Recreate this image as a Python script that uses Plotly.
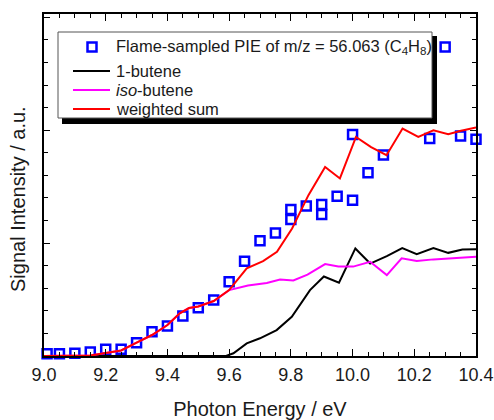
import plotly.graph_objects as go

# ---------------- data ----------------
pie_x = [9.01, 9.05, 9.10, 9.15, 9.20, 9.25, 9.30, 9.35, 9.40, 9.45, 9.50, 9.55, 9.60,
         9.65, 9.70, 9.75, 9.80, 9.80, 9.85, 9.90, 9.90, 9.95, 10.00, 10.00, 10.05,
         10.10, 10.25, 10.30, 10.35, 10.40]
pie_y = [0.02, 0.02, 0.025, 0.035, 0.06, 0.06, 0.118, 0.215, 0.265, 0.354, 0.427, 0.496, 0.658,
         0.84, 1.02, 1.09, 1.21, 1.298, 1.33, 1.254, 1.342, 1.416, 1.38, 1.962, 1.624,
         1.781, 1.927, 2.737, 1.95, 1.92]

sum_x = [9.00, 9.15, 9.20, 9.25, 9.30, 9.35, 9.40, 9.44, 9.47, 9.50, 9.55, 9.60, 9.657,
         9.71, 9.755, 9.804, 9.857, 9.911, 9.959, 10.011, 10.06, 10.09, 10.11, 10.162,
         10.213, 10.262, 10.31, 10.348, 10.40]
sum_y = [0.0, 0.005, 0.027, 0.049, 0.118, 0.186, 0.274, 0.378, 0.425, 0.438, 0.487, 0.584, 0.776,
         0.841, 0.923, 1.13, 1.425, 1.675, 1.573, 1.941, 1.85, 1.81, 1.779, 2.015,
         1.941, 2.0, 1.965, 1.994, 2.024]

but1_x = [9.00, 9.59, 9.614, 9.657, 9.70, 9.754, 9.803, 9.862, 9.907, 9.956, 10.009, 10.057,
          10.111, 10.161, 10.208, 10.262, 10.31, 10.356, 10.40]
but1_y = [0.0, 0.0, 0.024, 0.112, 0.157, 0.23, 0.348, 0.584, 0.704, 0.65, 0.953, 0.819,
          0.885, 0.956, 0.903, 0.956, 0.914, 0.944, 0.945]

iso_x = [9.00, 9.15, 9.20, 9.25, 9.30, 9.35, 9.40, 9.44, 9.47, 9.50, 9.55, 9.60, 9.661,
         9.722, 9.765, 9.808, 9.854, 9.911, 9.954, 10.002, 10.057, 10.111, 10.159, 10.208,
         10.262, 10.316, 10.40]
iso_y = [0.0, 0.005, 0.027, 0.049, 0.118, 0.186, 0.274, 0.378, 0.425, 0.438, 0.487, 0.584, 0.624,
         0.646, 0.677, 0.67, 0.721, 0.814, 0.794, 0.792, 0.835, 0.717, 0.865, 0.841,
         0.856, 0.865, 0.879]

x_tick_vals = [9.0, 9.2, 9.4, 9.6, 9.8, 10.0, 10.2, 10.4]
x_tick_text = ["9.0", "9.2", "9.4", "9.6", "9.8", "10.0", "10.2", "10.4"]

legend_labels = ["Flame-sampled PIE of m/z = 56.063 (C<sub>4</sub>H<sub>8</sub>)",
                 "1-butene", "<i>iso</i>-butene", "weighted sum"]

BLUE = "#0000ff"
RED = "#ff0000"
MAGENTA = "#ff00ff"
BLACK = "#000000"
FONT = "Arial, Liberation Sans, sans-serif"
TXT = "#1a1a1a"

W, H = 494, 420
L, R, T, B = 44, 476, 14, 356

fig = go.Figure()
fig.add_trace(go.Scatter(x=pie_x, y=pie_y, mode="markers", name=legend_labels[0],
                         marker=dict(symbol="square-open", size=9, color=BLUE,
                                     line=dict(color=BLUE, width=2.5)),
                         cliponaxis=False, showlegend=False))
fig.add_trace(go.Scatter(x=but1_x, y=but1_y, mode="lines", name=legend_labels[1],
                         line=dict(color=BLACK, width=2), showlegend=False))
fig.add_trace(go.Scatter(x=iso_x, y=iso_y, mode="lines", name=legend_labels[2],
                         line=dict(color=MAGENTA, width=2), showlegend=False))
fig.add_trace(go.Scatter(x=sum_x, y=sum_y, mode="lines", name=legend_labels[3],
                         line=dict(color=RED, width=2), showlegend=False))


def px2x(px):
    return (px - L) / (R - L)


def py2y(py):
    return (B - py) / (B - T)


shapes = []
# legend shadow + box
shapes.append(dict(type="rect", xref="paper", yref="paper", layer="above",
                   x0=px2x(62), x1=px2x(437), y0=py2y(124), y1=py2y(36),
                   fillcolor="black", line=dict(width=0)))
shapes.append(dict(type="rect", xref="paper", yref="paper", layer="above",
                   x0=px2x(58), x1=px2x(432), y0=py2y(118), y1=py2y(32),
                   fillcolor="white", line=dict(color="#555555", width=1)))
# legend symbols
shapes.append(dict(type="rect", xref="paper", yref="paper", layer="above",
                   x0=px2x(87.5), x1=px2x(96.5), y0=py2y(51.5), y1=py2y(42.5),
                   line=dict(color=BLUE, width=2.5)))
row_y = [47, 71, 90, 109]
for yy, col in zip(row_y[1:], [BLACK, MAGENTA, RED]):
    shapes.append(dict(type="line", xref="paper", yref="paper", layer="above",
                       x0=px2x(73), x1=px2x(110), y0=py2y(yy), y1=py2y(yy),
                       line=dict(color=col, width=2)))

annotations = []
for yy, lab in zip(row_y, legend_labels):
    annotations.append(dict(xref="paper", yref="paper", x=px2x(114), y=py2y(yy),
                            xanchor="left", yanchor="middle", text=lab, showarrow=False,
                            font=dict(family=FONT, size=16.5, color=TXT)))
annotations.append(dict(xref="paper", yref="paper", x=px2x(18), y=py2y(199),
                        xanchor="center", yanchor="middle", textangle=-90,
                        text="Signal Intensity / a.u.", showarrow=False,
                        font=dict(family=FONT, size=20, color=TXT)))

fig.update_layout(
    width=W, height=H, autosize=False,
    margin=dict(l=L, r=W - R, t=T, b=H - B),
    paper_bgcolor="white", plot_bgcolor="white",
    showlegend=False,
    shapes=shapes, annotations=annotations,
    font=dict(family=FONT, color=TXT),
)
fig.update_xaxes(
    range=[9.0, 10.4], tickvals=x_tick_vals, ticktext=x_tick_text,
    ticks="inside", ticklen=7, tickwidth=1.3, tickcolor="black",
    minor=dict(dtick=0.05, tick0=9.0, ticks="inside", ticklen=4, tickwidth=1.2, tickcolor="black"),
    showline=True, linecolor="black", linewidth=1.5, mirror="ticks",
    showgrid=False, zeroline=False, automargin=False,
    ticklabelstandoff=2,
    tickfont=dict(family=FONT, size=18, color=TXT),
    title=dict(text="Photon Energy / eV", font=dict(family=FONT, size=20, color=TXT), standoff=18),
)
fig.update_yaxes(
    range=[0, 3.03], dtick=1, tick0=0,
    ticks="inside", ticklen=6, tickwidth=1.3, tickcolor="black",
    minor=dict(dtick=0.2, tick0=0, ticks="inside", ticklen=4, tickwidth=1.2, tickcolor="black"),
    showticklabels=False, automargin=False,
    showline=True, linecolor="black", linewidth=1.5, mirror="ticks",
    showgrid=False, zeroline=False,
)

fig.write_html(
    "out.html",
    config={"responsive": False, "displayModeBar": False},
    post_script="document.body.style.margin='0';document.body.style.overflow='hidden';",
)
